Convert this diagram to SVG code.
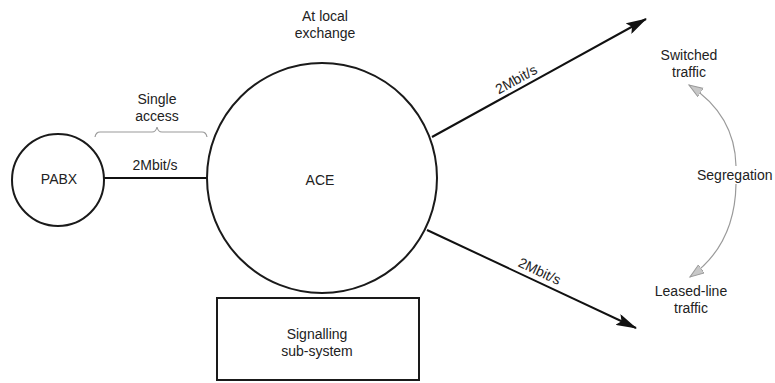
<svg xmlns="http://www.w3.org/2000/svg" width="775" height="383" viewBox="0 0 775 383">
<style>
text{font-family:"Liberation Sans",Arial,sans-serif;font-size:14px;fill:#222;text-anchor:middle}
.node{fill:#fff;stroke:#1a1a1a;stroke-width:2}
.conn{fill:none;stroke:#111;stroke-width:2}
.grey{fill:none;stroke:#9a9a9a;stroke-width:1.2}
</style>
<defs>
<marker id="ah" markerUnits="userSpaceOnUse" markerWidth="22" markerHeight="12" refX="20" refY="6" orient="auto">
<path d="M0,0 L21,6 L0,12 L4,6 Z" fill="#111"/>
</marker>
<marker id="gh" markerUnits="userSpaceOnUse" markerWidth="16" markerHeight="12" refX="14" refY="5" orient="auto">
<path d="M0,0 L14,5 L0,10 Z" fill="#c8c8c8" stroke="#9a9a9a" stroke-width="1"/>
</marker>
</defs>
<rect width="775" height="383" fill="#fff"/>

<g id="connectors">
<line class="conn" x1="104" y1="178" x2="207" y2="178"/>
<line class="conn" x1="432" y1="137" x2="646" y2="19" marker-end="url(#ah)"/>
<line class="conn" x1="427" y1="230" x2="636" y2="328" marker-end="url(#ah)"/>
<path class="grey" d="M736,166 Q735,115 689,85" marker-end="url(#gh)"/>
<path class="grey" d="M736,184 Q735,245 690,277" marker-end="url(#gh)"/>
</g>

<g id="pabx">
<circle class="node" cx="58" cy="180" r="46"/>
<text x="59" y="184">PABX</text>
</g>

<g id="ace">
<circle class="node" cx="322" cy="178" r="115"/>
<text x="320" y="185">ACE</text>
</g>

<g id="signalling">
<rect class="node" x="217" y="298" width="202" height="82"/>
<text x="317" y="339">Signalling</text>
<text x="317" y="356">sub-system</text>
</g>

<g id="labels">
<text x="325" y="21">At local</text>
<text x="325" y="38">exchange</text>
<text x="157" y="104">Single</text>
<text x="157" y="121">access</text>
<path class="grey" d="M95,137 Q96,132 100,132 L152,132 Q156,132 157,127 Q158,132 162,132 L202,132 Q206,132 207,137"/>
<text x="155" y="170">2Mbit/s</text>
<text transform="translate(521,88) rotate(-28.9)" x="0" y="-5">2Mbit/s</text>
<text transform="translate(535,281) rotate(25.2)" x="0" y="-6">2Mbit/s</text>
<text x="689" y="60">Switched</text>
<text x="689" y="77">traffic</text>
<text x="697" y="180" style="text-anchor:start">Segregation</text>
<text x="691" y="296">Leased-line</text>
<text x="691" y="313">traffic</text>
</g>
</svg>
